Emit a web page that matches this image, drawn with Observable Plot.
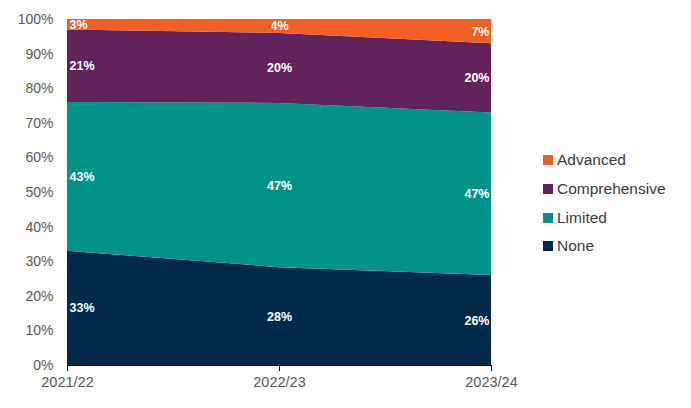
<!DOCTYPE html>
<html>
<head>
<meta charset="utf-8">
<script src="https://cdn.jsdelivr.net/npm/d3@7"></script>
<script src="https://cdn.jsdelivr.net/npm/@observablehq/plot@0.6"></script>
<style>
  body { margin: 0; background: #fff; font-family: "Liberation Sans", Arial, sans-serif; }
  #wrap { position: relative; width: 691px; height: 408px; }
  #legend { position: absolute; left: 543px; top: 151px; }
  .item { display: flex; align-items: center; height: 18px; margin-bottom: 10.8px; font-size: 15.5px; color: #3b3b3b; }
  .sw { width: 10px; height: 10px; margin-right: 4px; }
</style>
</head>
<body>
<div id="wrap"><div id="legend"></div></div>
<script>
const periods = ["2021/22", "2022/23", "2023/24"];
const categories = ["None", "Limited", "Comprehensive", "Advanced"];
const colors = ["#002A4A", "#00938A", "#62225A", "#F15F22"];
const noneVals = [33, 28, 26];
const limitedVals = [43, 47, 47];
const comprehensiveVals = [21, 20, 20];
const advancedVals = [3, 4, 7];
const yTicks = [0, 0.1, 0.2, 0.3, 0.4, 0.5, 0.6, 0.7, 0.8, 0.9, 1];

const seriesVals = [noneVals, limitedVals, comprehensiveVals, advancedVals];
const data = [];
categories.forEach((c, ci) => {
  periods.forEach((p, pi) => data.push({period: p, category: c, value: seriesVals[ci][pi]}));
});

const stackOpts = {offset: "normalize"};
const textMark = (pi, anchor, dx) => Plot.text(data, Plot.stackY(stackOpts, {
  filter: d => d.period === periods[pi],
  x: "period", y: "value", z: "category",
  text: d => d.value + "%",
  fill: "white", fontWeight: "bold", fontSize: 12.5,
  textAnchor: anchor, dx
}));

const chart = Plot.plot({
  width: 691,
  height: 408,
  marginLeft: 67,
  marginRight: 200,
  marginTop: 19,
  marginBottom: 43,
  style: {fontFamily: "'Liberation Sans', Arial, sans-serif", background: "white"},
  x: {type: "point", domain: periods, padding: 0, label: null},
  y: {domain: [0, 1], label: null},
  color: {domain: categories, range: colors},
  marks: [
    Plot.areaY(data, Plot.stackY(stackOpts, {x: "period", y: "value", z: "category", fill: "category", curve: "linear"})),
    textMark(0, "start", 2),
    textMark(1, "middle", 0),
    textMark(2, "end", -2),
    Plot.ruleY([0], {stroke: "#000", strokeWidth: 1.2}),
    Plot.axisX({tickSize: 6, tickPadding: 5, fontSize: 14.5, color: "#595959", stroke: "#000", tickFormat: d => d}),
    Plot.axisY({ticks: yTicks, tickSize: 0, tickPadding: 14, fontSize: 14, color: "#595959", tickFormat: d3.format(".0%")})
  ]
});
chart.style.position = "absolute";
chart.style.left = "0";
chart.style.top = "0";
document.getElementById("wrap").prepend(chart);

const legend = document.getElementById("legend");
[...categories].reverse().forEach(c => {
  const i = categories.indexOf(c);
  const div = document.createElement("div");
  div.className = "item";
  div.innerHTML = `<span class="sw" style="background:${colors[i]}"></span><span>${c}</span>`;
  legend.appendChild(div);
});
</script>
</body>
</html>
